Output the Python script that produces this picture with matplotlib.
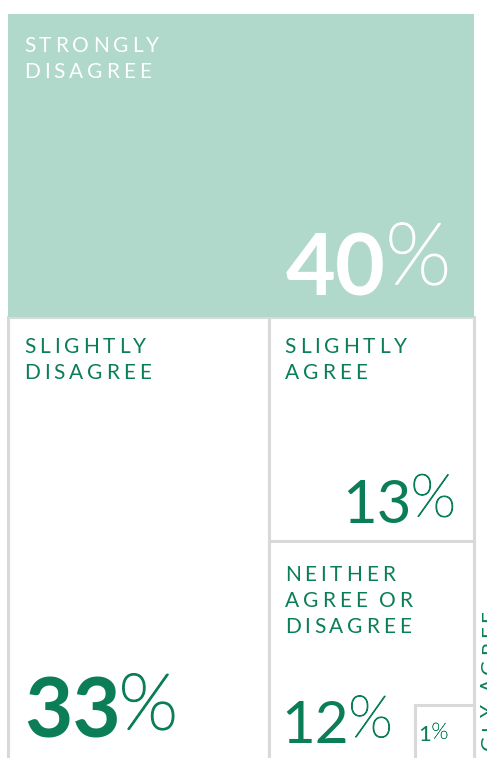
import numpy as np
import matplotlib.pyplot as plt
import matplotlib.patheffects as pe
from matplotlib.patches import Rectangle
from matplotlib.font_manager import FontProperties
from matplotlib.textpath import TextToPath

labels = ["STRONGLY\nDISAGREE", "SLIGHTLY\nDISAGREE", "SLIGHTLY\nAGREE",
          "NEITHER\nAGREE OR\nDISAGREE", "STRONGLY AGREE"]
values = [40, 33, 13, 12, 1]

MINT = "#b0d8cb"
GREEN = "#0b7d57"
GREY = "#d9d9d9"
FONT = "Lato"
DPI = 100
PX = DPI / 72.0

# treemap frame in pixels
x0, x1 = 8, 474
y0, height = 14, 750
width = x1 - x0
total = sum(values)
unit = width * height / total  # px^2 per percent

# simple slice layout: top row, then left column, then right column
h_top = height * values[0] / total
w_left = width * values[1] / (total - values[0])
h_bottom = height - h_top
h_sa = h_bottom * values[2] / (values[2] + values[3] + values[4])
side = np.sqrt(values[4] * unit)

cells = [
    (x0, y0, width, h_top),
    (x0, y0 + h_top, w_left, h_bottom),
    (x0 + w_left, y0 + h_top, width - w_left, h_sa),
    (x0 + w_left, y0 + h_top + h_sa, width - w_left, h_bottom - h_sa),
    (x1 - side, y0 + height - side, side, side),
]

fig = plt.figure(figsize=(4.87, 7.58), dpi=DPI)
ax = fig.add_axes([0, 0, 1, 1])
ax.set_xlim(0, 487)
ax.set_ylim(758, 0)
ax.axis("off")

ttp = TextToPath()


def char_w(ch, prop):
    if ch == " ":
        return prop.get_size_in_points() * PX * 0.2
    w, h, d = ttp.get_text_width_height_descent(ch, prop, ismath=False)
    return w * PX


def tracked(x, y, text, size, color, gap, ls=26):
    prop = FontProperties(family=FONT, size=size)
    for i, line in enumerate(text.split("\n")):
        cx = x
        for ch in line:
            if ch != " ":
                ax.text(cx, y + i * ls, ch, fontproperties=prop, color=color,
                        ha="left", va="baseline", zorder=5)
            cx += char_w(ch, prop) + gap


def tracked_up(x, ytop, text, size, color, gap):
    prop = FontProperties(family=FONT, size=size)
    cy = ytop
    for ch in text[::-1]:
        w = char_w(ch, prop)
        if ch != " ":
            ax.text(x, cy, ch, fontproperties=prop, color=color, rotation=90,
                    ha="left", va="top", zorder=5)
        cy += w + gap


def number(x, y, value, size, weight, color, align, gap, lift, psize=None, thick=1.0):
    nprop = FontProperties(family=FONT, size=size, weight=weight)
    pprop = FontProperties(family=FONT, size=psize or size, weight="light")
    s = str(value)
    wn = char_w(s, nprop)
    wp = char_w("%", pprop)
    if align == "right":
        xp = x - wp
        xn = xp - gap - wn
    else:
        xn = x
        xp = x + wn + gap
    ax.text(xn, y, s, fontproperties=nprop, color=color, ha="left",
            va="baseline", zorder=5)
    ax.text(xp, y - lift, "%", fontproperties=pprop, color=color, ha="left",
            va="baseline", zorder=5,
            path_effects=[pe.withStroke(linewidth=thick, foreground=color)])


# boxes
for (cx, cy, cw, ch) in cells[1:]:
    ax.add_patch(Rectangle((cx, cy), cw, ch, facecolor="white",
                           edgecolor=GREY, lw=2.2, zorder=1))
cx, cy, cw, ch = cells[0]
ax.add_patch(Rectangle((cx, cy), cw, ch, facecolor=MINT, edgecolor="none",
                       zorder=2))

# category labels
text_col = ["white", GREEN, GREEN, GREEN]
label_dy = [38, 36, 36, 40]
for i in range(4):
    cx, cy, cw, ch = cells[i]
    tracked(cx + 16, cy + label_dy[i], labels[i], 15, text_col[i], 3.9)

tracked_up(x1 + 6, cells[3][1] + 69, labels[4], 15, GREEN, 3.9)

# percentages
cx, cy, cw, ch = cells[0]
number(cx + cw - 23, cy + ch - 22, values[0], 62, "bold", "white", "right", 0, 11, thick=1.4)
cx, cy, cw, ch = cells[1]
number(cx + 16, cy + ch - 26, values[1], 60, "bold", GREEN, "left", -2, 9, 56, thick=1.4)
cx, cy, cw, ch = cells[2]
number(cx + cw - 18, cy + ch - 18, values[2], 43, "normal", GREEN, "right", -1, 6, thick=0.8)
cx, cy, cw, ch = cells[3]
number(cx + 13, cy + ch - 21, values[3], 42, "normal", GREEN, "left", -1, 6, thick=0.8)
cx, cy, cw, ch = cells[4]
number(cx + 4, cy + 36, values[4], 16, "normal", GREEN, "left", 0, 2, thick=0.3)

fig.savefig("out.png", dpi=DPI)
